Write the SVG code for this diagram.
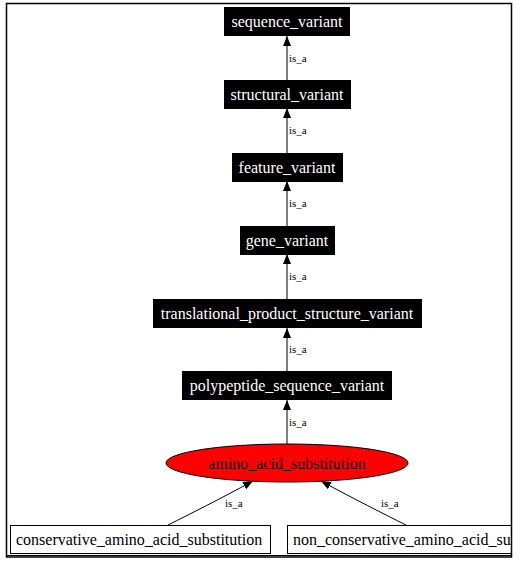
<svg xmlns="http://www.w3.org/2000/svg" width="520" height="565" viewBox="0 0 520 565">
<style>
.blk{fill:#000;stroke:#000;stroke-width:1}
.wt{fill:#fff;font-family:"Liberation Serif","Times New Roman",serif;font-size:16px;text-anchor:middle}
.bt{fill:#000;font-family:"Liberation Serif","Times New Roman",serif;font-size:16px}
.lbl{fill:#000;font-family:"Liberation Serif","Times New Roman",serif;font-size:11px}
.edge{fill:none;stroke:#000;stroke-width:1}
.box{fill:#fff;stroke:#000;stroke-width:1}
</style>
<defs>
<marker id="arr" markerUnits="userSpaceOnUse" markerWidth="10" markerHeight="8" refX="10" refY="4" orient="auto">
<path d="M0,0 L10,4 L0,8 z" fill="#000"/>
</marker>
<clipPath id="clip"><rect x="0" y="0" width="512" height="565"/></clipPath>
</defs>
<rect x="0" y="0" width="520" height="565" fill="#fff"/>
<g clip-path="url(#clip)">
<g id="connectors">
<line class="edge" x1="287" y1="80" x2="287" y2="36" marker-end="url(#arr)"/>
<text class="lbl" x="289" y="62">is_a</text>
<line class="edge" x1="287" y1="153" x2="287" y2="108" marker-end="url(#arr)"/>
<text class="lbl" x="289" y="134">is_a</text>
<line class="edge" x1="287" y1="226" x2="287" y2="181" marker-end="url(#arr)"/>
<text class="lbl" x="289" y="207">is_a</text>
<line class="edge" x1="287" y1="299" x2="287" y2="254" marker-end="url(#arr)"/>
<text class="lbl" x="289" y="280">is_a</text>
<line class="edge" x1="287" y1="371" x2="287" y2="328" marker-end="url(#arr)"/>
<text class="lbl" x="289" y="353">is_a</text>
<line class="edge" x1="287" y1="444" x2="287" y2="400" marker-end="url(#arr)"/>
<text class="lbl" x="289" y="426">is_a</text>
<path class="edge" d="M168,525 C190,514 220,499 253,481" marker-end="url(#arr)"/>
<text class="lbl" x="225" y="507">is_a</text>
<path class="edge" d="M406,525 C384,514 354,499 321,481" marker-end="url(#arr)"/>
<text class="lbl" x="381" y="507">is_a</text>
</g>
<g id="sequence_variant">
<rect class="blk" x="224.5" y="7.5" width="125" height="28"/>
<text class="wt" x="287" y="27">sequence_variant</text>
</g>
<g id="structural_variant">
<rect class="blk" x="224.5" y="80.5" width="126" height="28"/>
<text class="wt" x="287" y="100">structural_variant</text>
</g>
<g id="feature_variant">
<rect class="blk" x="232.5" y="153.5" width="110" height="28"/>
<text class="wt" x="287" y="173">feature_variant</text>
</g>
<g id="gene_variant">
<rect class="blk" x="240.5" y="226.5" width="94" height="28"/>
<text class="wt" x="287" y="246">gene_variant</text>
</g>
<g id="translational_product_structure_variant">
<rect class="blk" x="153.5" y="299.5" width="268" height="28"/>
<text class="wt" x="287" y="319">translational_product_structure_variant</text>
</g>
<g id="polypeptide_sequence_variant">
<rect class="blk" x="182.5" y="371.5" width="209" height="28"/>
<text class="wt" x="287" y="391">polypeptide_sequence_variant</text>
</g>
<g id="amino_acid_substitution">
<ellipse cx="287" cy="463" rx="121" ry="19" fill="#ff0000" stroke="#000" stroke-width="1"/>
<text class="bt" x="287" y="469" text-anchor="middle">amino_acid_substitution</text>
</g>
<g id="conservative_amino_acid_substitution">
<rect class="box" x="10.5" y="525.5" width="260" height="28"/>
<text class="bt" x="16" y="545">conservative_amino_acid_substitution</text>
</g>
<g id="non_conservative_amino_acid_substitution">
<rect class="box" x="287.5" y="525.5" width="320" height="28"/>
<text class="bt" x="293" y="545">non_conservative_amino_acid_substitution</text>
</g>
</g>
<g id="border">
<line x1="6.5" y1="555.5" x2="511.5" y2="555.5" stroke="#000" stroke-width="1"/>
<path d="M6.5,557 L6.5,3.5 L511.5,3.5 L511.5,557 Z" fill="none" stroke="#000" stroke-width="1.5"/>
</g>
</svg>
